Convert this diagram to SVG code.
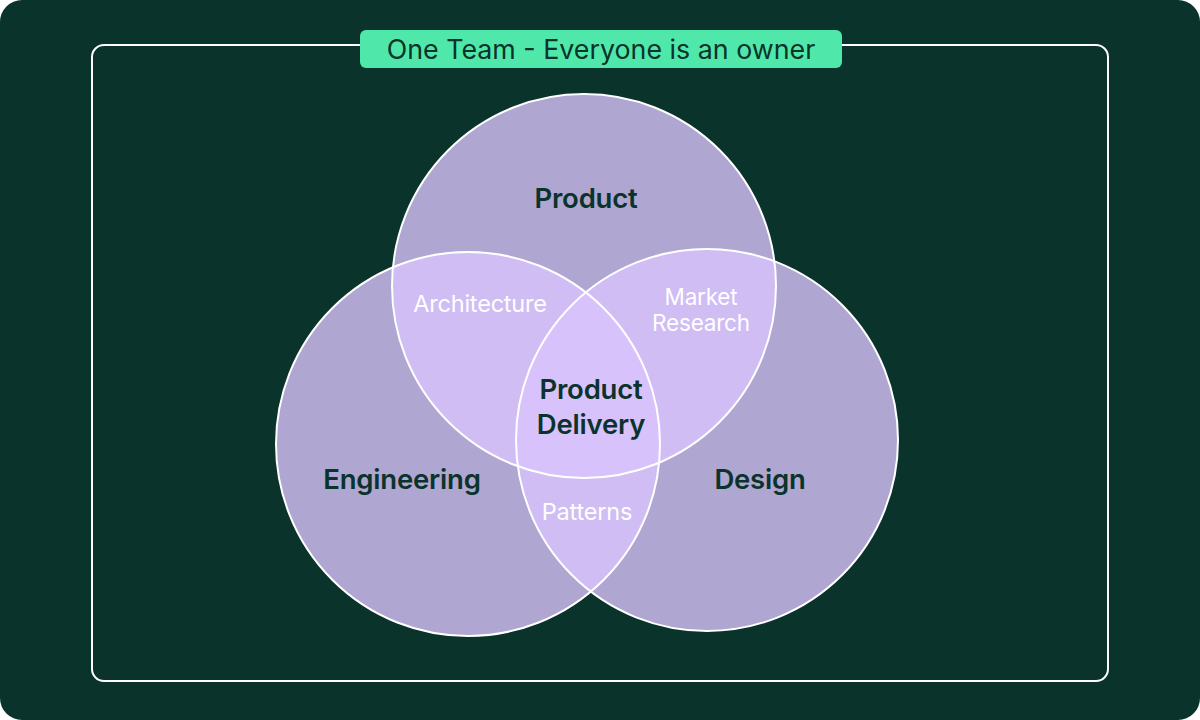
<svg xmlns="http://www.w3.org/2000/svg" width="1200" height="720" viewBox="0 0 1200 720">
<style>
.c{fill:#d8c3fc;fill-opacity:0.8}
.s{fill:none;stroke:#ffffff;stroke-width:2}
.b{font-family:Inter,"Liberation Sans",sans-serif;font-weight:600;font-size:27.5px;fill:#0a332b;text-anchor:middle;letter-spacing:-0.2px}
.w{font-family:Inter,"Liberation Sans",sans-serif;font-size:23.5px;fill:#ffffff;text-anchor:middle;letter-spacing:-0.2px}
.m{font-size:22.5px}
</style>
<rect x="0" y="0" width="1200" height="720" rx="22" fill="#0a332b"/>
<rect x="92" y="45" width="1016" height="636" rx="12" fill="none" stroke="#ffffff" stroke-width="2"/>
<g id="title">
<rect x="360" y="30" width="482" height="38" rx="6" fill="#50e8aa"/>
<text x="601" y="58.5" font-family="Inter,'Liberation Sans',sans-serif" font-size="26.8" fill="#0a332b" text-anchor="middle">One Team - Everyone is an owner</text>
</g>
<g id="fills">
<circle class="c" cx="584" cy="286" r="192"/>
<circle class="c" cx="468" cy="444" r="192"/>
<circle class="c" cx="707" cy="440" r="191"/>
</g>
<g id="outlines">
<circle class="s" cx="584" cy="286" r="192"/>
<circle class="s" cx="468" cy="444" r="192"/>
<circle class="s" cx="707" cy="440" r="191"/>
</g>
<g id="product"><text class="b" x="586" y="208">Product</text></g>
<g id="engineering"><text class="b" x="402" y="489">Engineering</text></g>
<g id="design"><text class="b" x="760" y="489">Design</text></g>
<g id="architecture"><text class="w" x="480" y="312">Architecture</text></g>
<g id="market"><text class="w m" x="701" y="305">Market</text><text class="w m" x="701" y="331">Research</text></g>
<g id="patterns"><text class="w" x="587" y="520">Patterns</text></g>
<g id="delivery"><text class="b" x="591" y="399">Product</text><text class="b" x="591" y="434">Delivery</text></g>
</svg>
